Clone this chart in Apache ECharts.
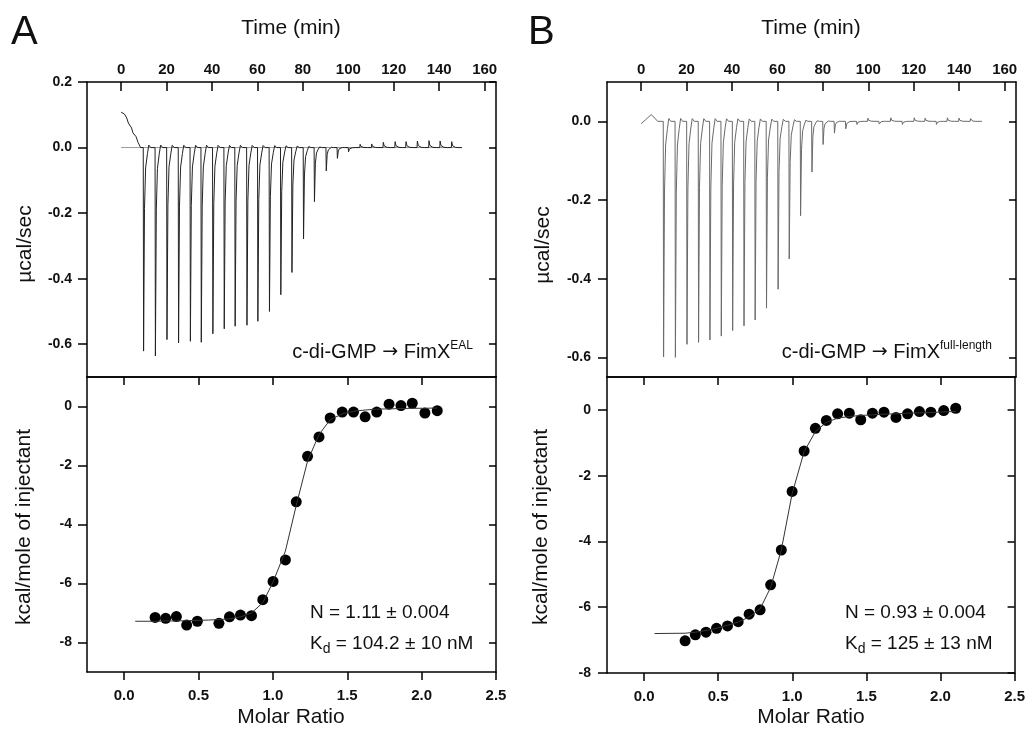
<!DOCTYPE html>
<html><head><meta charset="utf-8">
<script src="https://cdn.jsdelivr.net/npm/echarts@6/dist/echarts.min.js"></script>
<style>html,body{margin:0;padding:0;background:#fff}#c{width:1028px;height:739px}</style>
</head><body><div id="c"></div>
<script>
// ---------- DATA ----------
const timeTicks = [0, 20, 40, 60, 80, 100, 120, 140, 160];
const molarTicks = [0, 0.5, 1.0, 1.5, 2.0, 2.5];
const powerTicksA = [0.2, 0, -0.2, -0.4, -0.6];
const powerTicksB = [0, -0.2, -0.4, -0.6];
const heatTicks = [0, -2, -4, -6, -8];

// Panel A raw thermogram (time in min, µcal/sec)
const startA = [[0,0.108],[1.5,0.102],[2.5,0.09],[3.2,0.075],[4,0.078],[4.6,0.06],[5.2,0.045],[5.8,0.048],[6.6,0.033],[7.5,0.015],[8.6,0.0]];
const injTimeA = [9.9,15.1,20.2,25.3,30.5,35.3,40.4,45.4,50.2,55.4,60.2,65.3,70.3,75.2,80.3,85.1,90.3,95.2,100.1,105.2,110.3,115.4,120.6,125.4,130.4,135.5,140.4,145.5];
const peakA = [-0.621,-0.636,-0.586,-0.596,-0.591,-0.594,-0.568,-0.553,-0.545,-0.542,-0.530,-0.500,-0.449,-0.381,-0.279,-0.165,-0.071,-0.033,-0.013,0.010,0.011,0.016,0.018,0.018,0.020,0.021,0.020,0.018];
const endTimeA = 150;

// Panel B raw thermogram
const startB = [[0,-0.006],[2,0.004],[4.4,0.017],[5.6,0.011],[7.3,0.0]];
const injTimeB = [9.9,15.1,20.2,25.3,30.3,35.3,40.3,45.3,50.2,55.2,60.3,65.2,70.2,75.2,80.1,85.1,90.1,95.0,99.8,104.8,109.9,115.0,120.2,125.0,130.0,134.8,139.9,145.0];
const peakB = [-0.599,-0.600,-0.567,-0.562,-0.556,-0.546,-0.532,-0.520,-0.505,-0.475,-0.427,-0.350,-0.240,-0.129,-0.059,-0.030,-0.019,-0.008,0.008,-0.007,0.009,-0.008,0.009,0.008,-0.008,0.009,0.008,0.007];
const endTimeB = 150;

// Panel A integrated heats
const molarA = [0.208,0.279,0.351,0.420,0.492,0.637,0.708,0.782,0.856,0.932,1.001,1.084,1.157,1.233,1.310,1.385,1.466,1.542,1.620,1.698,1.781,1.861,1.937,2.022,2.105];
const heatA  = [-7.15,-7.18,-7.12,-7.41,-7.28,-7.35,-7.13,-7.07,-7.09,-6.55,-5.93,-5.20,-3.23,-1.69,-1.03,-0.39,-0.19,-0.19,-0.35,-0.19,0.08,0.03,0.11,-0.22,-0.14];
const fitXA = [0.074,0.208,0.279,0.351,0.420,0.492,0.565,0.637,0.708,0.782,0.856,0.932,1.001,1.084,1.157,1.233,1.310,1.385,1.466,1.542,1.620,1.698,1.781,1.861,1.937,2.022,2.105];
const fitYA = [-7.28,-7.28,-7.27,-7.27,-7.26,-7.25,-7.24,-7.22,-7.20,-7.13,-7.00,-6.65,-5.95,-4.90,-3.35,-1.85,-0.95,-0.45,-0.25,-0.16,-0.12,-0.09,-0.08,-0.07,-0.06,-0.06,-0.05];

// Panel B integrated heats
const molarB = [0.277,0.346,0.418,0.489,0.563,0.635,0.709,0.783,0.854,0.926,0.999,1.080,1.156,1.230,1.306,1.385,1.462,1.541,1.619,1.700,1.778,1.858,1.935,2.022,2.103];
const heatB  = [-7.02,-6.84,-6.76,-6.64,-6.57,-6.44,-6.21,-6.08,-5.32,-4.26,-2.48,-1.25,-0.56,-0.32,-0.12,-0.10,-0.30,-0.10,-0.07,-0.23,-0.12,-0.05,-0.07,-0.02,0.05];
const fitXB = [0.071,0.277,0.346,0.418,0.489,0.563,0.635,0.709,0.783,0.854,0.926,0.999,1.080,1.156,1.230,1.306,1.385,1.462,1.541,1.619,1.700,1.778,1.858,1.935,2.022,2.103];
const fitYB = [-6.80,-6.79,-6.76,-6.71,-6.64,-6.55,-6.45,-6.30,-6.05,-5.40,-4.26,-2.55,-1.27,-0.66,-0.38,-0.25,-0.20,-0.17,-0.15,-0.13,-0.12,-0.10,-0.09,-0.08,-0.06,-0.05];

// ---------- BUILD ----------
const F = "'Liberation Sans', Arial, sans-serif";
const FA = "'DejaVu Sans', sans-serif";
const INK = '#111';
// drawing template of one injection spike: [minutes after injection, fraction of peak]
const peakShape = [[-0.15,0],[0,1],[0.4,0.3],[0.9,0.1],[1.7,0.03],[2.3,-0.012],[3.2,0]];
function buildTrace(start, times, peaks, endT) {
  const pts = start.map(p => p.slice());
  times.forEach((t, i) => peakShape.forEach(s => pts.push([t + s[0], peaks[i] * s[1]])));
  pts.push([endT, 0]);
  return pts;
}
const zip = (a, b) => a.map((v, i) => [v, b[i]]);

const grids = [
  {left: 87, top: 82, width: 409, height: 295},
  {left: 87, top: 377, width: 409, height: 295},
  {left: 607, top: 82, width: 409, height: 295},
  {left: 607, top: 377, width: 409, height: 296}
];
const lineS = {show: true, onZero: false, lineStyle: {color: '#000', width: 1.5}};
const tickLbl = (fmt, margin, size) => ({show: true, fontFamily: F, fontWeight: 'bold', fontSize: size || 14, color: INK, margin: margin, formatter: fmt});
function ax(o) {
  return Object.assign({type: 'value', splitLine: {show: false}, axisLine: lineS}, o);
}
const tk = (inside, len, vals) => ({show: true, inside: inside, length: len, lineStyle: {color: '#000', width: 1.5}, customValues: vals});
const timeAxis = g => ax({gridIndex: g, position: 'top', min: -15, max: 165,
  axisTick: tk(true, 9, timeTicks),
  axisLabel: Object.assign(tickLbl(v => String(v), 5, 15), {customValues: timeTicks})});
const timeBottom = g => ax({gridIndex: g, position: 'bottom', min: -15, max: 165, axisTick: {show: false}, axisLabel: {show: false}});
const molarAxis = g => ax({gridIndex: g, position: 'bottom', min: -0.25, max: 2.5,
  axisTick: tk(false, 8, molarTicks),
  axisLabel: Object.assign(tickLbl(v => v.toFixed(1), 16, 15), {customValues: molarTicks})});
const molarTop = g => ax({gridIndex: g, position: 'top', min: -0.25, max: 2.5,
  axisTick: tk(true, 8, molarTicks.slice(0, 5)),
  axisLabel: {show: false}});
const yLeft = (g, min, max, ticks, fmt, margin) => ax({gridIndex: g, position: 'left', min: min, max: max,
  axisTick: tk(false, 9, ticks),
  axisLabel: Object.assign(tickLbl(fmt, margin), {customValues: ticks})});
const yRight = (g, min, max, ticks) => ax({gridIndex: g, position: 'right', min: min, max: max,
  axisTick: tk(true, 7, ticks),
  axisLabel: {show: false}});

const f1 = v => v.toFixed(1);
const f0 = v => String(Math.round(v));

const richTitle = (sup) => ({
  text: '{a|c-di-GMP }{r|→}{a| FimX}{b|' + sup + '}', align: 'right', verticalAlign: 'middle',
  rich: {
    a: {fontFamily: F, fontSize: 20, fill: INK, lineHeight: 24, verticalAlign: 'middle'},
    r: {fontFamily: FA, fontSize: 19, fill: INK, lineHeight: 24, verticalAlign: 'middle'},
    b: {fontFamily: F, fontSize: 12, fill: INK, lineHeight: 16, verticalAlign: 'top'}
  }
});
const richKd = (rest) => ({
  text: '{a|K}{s|d}{a| = ' + rest + '}', align: 'left', verticalAlign: 'middle',
  rich: {
    a: {fontFamily: F, fontSize: 19, fill: INK, lineHeight: 24, verticalAlign: 'middle'},
    s: {fontFamily: F, fontSize: 14, fill: INK, lineHeight: 12, verticalAlign: 'bottom'}
  }
});
const plain = (x, y, text, size, align, rot) => ({type: 'text', x: x, y: y, rotation: rot || 0,
  style: {text: text, fontFamily: F, fontSize: size, fill: INK, align: align, verticalAlign: 'middle'}});

const option = {
  animation: false,
  backgroundColor: '#fff',
  grid: grids,
  xAxis: [timeAxis(0), timeBottom(0), molarAxis(1), molarTop(1), timeAxis(2), timeBottom(2), molarAxis(3), molarTop(3)],
  yAxis: [
    yLeft(0, -0.7, 0.2, powerTicksA, f1, 15), yRight(0, -0.7, 0.2, powerTicksA),
    yLeft(1, -9, 1, heatTicks, f0, 15), yRight(1, -9, 1, heatTicks),
    yLeft(2, -0.65, 0.1, powerTicksB, f1, 16), yRight(2, -0.65, 0.1, powerTicksB),
    yLeft(3, -8, 1, heatTicks, f0, 16), yRight(3, -8, 1, heatTicks)
  ],
  series: [
    {type: 'line', xAxisIndex: 0, yAxisIndex: 0, data: [[0, 0], [endTimeA, 0]], symbol: 'none', lineStyle: {color: '#999', width: 1}, z: 1},
    {type: 'line', xAxisIndex: 0, yAxisIndex: 0, data: buildTrace(startA, injTimeA, peakA, endTimeA), symbol: 'none', lineStyle: {color: '#222', width: 1}, z: 2},
    {type: 'line', xAxisIndex: 2, yAxisIndex: 2, data: zip(fitXA, fitYA), symbol: 'none', lineStyle: {color: '#333', width: 1}},
    {type: 'scatter', xAxisIndex: 2, yAxisIndex: 2, data: zip(molarA, heatA), symbol: 'circle', symbolSize: 11, itemStyle: {color: '#000', opacity: 1}},
    {type: 'line', xAxisIndex: 4, yAxisIndex: 4, data: buildTrace(startB, injTimeB, peakB, endTimeB), symbol: 'none', lineStyle: {color: '#6a6a6a', width: 1}},
    {type: 'line', xAxisIndex: 6, yAxisIndex: 6, data: zip(fitXB, fitYB), symbol: 'none', lineStyle: {color: '#333', width: 1}},
    {type: 'scatter', xAxisIndex: 6, yAxisIndex: 6, data: zip(molarB, heatB), symbol: 'circle', symbolSize: 11, itemStyle: {color: '#000', opacity: 1}}
  ],
  graphic: [
    plain(11, 33, 'A', 40, 'left'),
    plain(528, 33, 'B', 40, 'left'),
    plain(291, 28, 'Time (min)', 21, 'center'),
    plain(811, 28, 'Time (min)', 21, 'center'),
    plain(291, 717, 'Molar Ratio', 21, 'center'),
    plain(811, 717, 'Molar Ratio', 21, 'center'),
    plain(25, 244, 'µcal/sec', 21, 'center', Math.PI / 2),
    plain(543, 245, 'µcal/sec', 21, 'center', Math.PI / 2),
    plain(24, 527, 'kcal/mole of injectant', 21, 'center', Math.PI / 2),
    plain(541, 527, 'kcal/mole of injectant', 21, 'center', Math.PI / 2),
    {type: 'text', x: 473, y: 352, style: richTitle('EAL')},
    {type: 'text', x: 992, y: 352, style: richTitle('full-length')},
    plain(310, 613, 'N = 1.11 ± 0.004', 19, 'left'),
    {type: 'text', x: 310, y: 644, style: richKd('104.2 ± 10 nM')},
    plain(845, 613, 'N = 0.93 ± 0.004', 19, 'left'),
    {type: 'text', x: 845, y: 644, style: richKd('125 ± 13 nM')}
  ]
};
const chart = echarts.init(document.getElementById('c'), null, {renderer: 'canvas'});
chart.setOption(option);
</script></body></html>
